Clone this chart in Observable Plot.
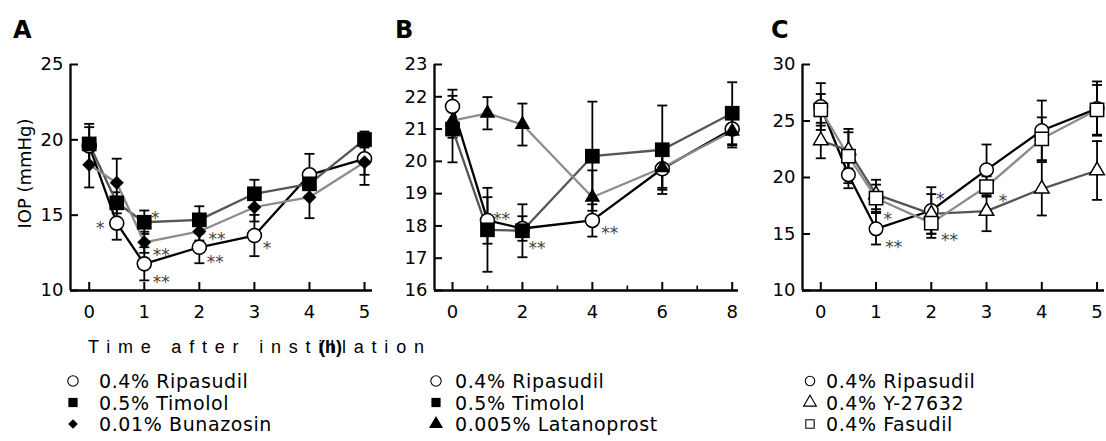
<!DOCTYPE html>
<html><head><meta charset="utf-8">
<script src="https://cdn.jsdelivr.net/npm/d3@7"></script>
<script src="https://cdn.jsdelivr.net/npm/@observablehq/plot@0.6"></script>
<style>
html,body{margin:0;padding:0;background:#fff;}
#root{position:relative;width:1106px;height:441px;overflow:hidden;background:#fff;}
.panel{position:absolute;top:0;}
#overlay{position:absolute;left:0;top:0;pointer-events:none;}
</style></head>
<body><div id="root"></div>
<script>
// ---------- names ----------
const nameRip = "0.4% Ripasudil";
const nameTim = "0.5% Timolol";
const nameBun = "0.01% Bunazosin";
const nameLat = "0.005% Latanoprost";
const nameY27 = "0.4% Y-27632";
const nameFas = "0.4% Fasudil";

// ---------- Panel A ----------
const hoursA = [0, 0.5, 1, 2, 3, 4, 5];
const ripasudilA = [19.6, 14.47, 11.77, 12.87, 13.65, 17.68, 18.74];
const ripasudilA_se = [1.24, 1.1, 1.1, 1.06, 1.37, 1.39, 1.06];
const timololA = [19.73, 15.82, 14.53, 14.69, 16.42, 17.08, 20.02];
const timololA_se = [1.33, 0.7, 0.78, 0.9, 0.93, 0.9, 0.53];
const bunazosinA = [18.34, 17.15, 13.2, 13.92, 15.53, 16.19, 18.51];
const bunazosinA_se = [1.5, 1.6, 0.7, 0.6, 0.95, 1.39, 1.5];
const xTicksA = [0, 1, 2, 3, 4, 5];
const yTicksA = [10, 15, 20, 25];
const sigA_t = [0.2, 1.2, 1.31, 1.31, 2.32, 2.29, 3.23];
const sigA_v = [14.43, 15.09, 12.65, 10.88, 13.7, 12.21, 13.1];
const sigA_text = ["*", "*", "**", "**", "**", "**", "*"];

// ---------- Panel B ----------
const hoursB = [0, 1, 2, 4, 6, 8];
const ripasudilB = [21.7, 18.17, 17.92, 18.17, 19.77, 21.0];
const ripasudilB_se = [0.52, 0.72, 0.38, 0.5, 0.65, 0.5];
const timololB = [21.0, 17.88, 17.85, 20.16, 20.36, 21.49];
const timololB_se = [1.03, 1.3, 0.82, 1.69, 1.37, 0.96];
const latanoprostB = [21.26, 21.49, 21.14, 18.89, 19.8, 20.93];
const latanoprostB_se = [0.53, 0.5, 0.65, 0.83, 0.62, 0.5];
const xTicksB = [0, 2, 4, 6, 8];
const xMinorB = [1, 3, 5, 7];
const yTicksB = [16, 17, 18, 19, 20, 21, 22, 23];
const sigB_t = [1.4, 2.42, 4.5];
const sigB_v = [18.35, 17.46, 17.91];
const sigB_text = ["**", "**", "**"];

// ---------- Panel C ----------
const hoursC = [0, 0.5, 1, 2, 3, 4, 5];
const ripasudilC = [26.28, 20.24, 15.46, 17.08, 20.68, 24.16, 26.1];
const ripasudilC_se = [2.07, 1.19, 1.39, 2.06, 2.24, 2.65, 2.4];
const y27632C = [23.27, 22.4, 18.5, 16.78, 17.02, 19.0, 20.62];
const y27632C_se = [1.57, 1.6, 1.3, 1.75, 1.77, 2.36, 2.6];
const fasudilC = [25.99, 21.9, 18.17, 15.96, 19.2, 23.42, 25.99];
const fasudilC_se = [1.4, 2.4, 1.2, 1.3, 0.9, 1.9, 2.2];
const xTicksC = [0, 1, 2, 3, 4, 5];
const yTicksC = [10, 15, 20, 25, 30];
const sigC_t = [1.21, 1.32, 2.16, 2.33, 3.3];
const sigC_v = [16.73, 14.27, 18.5, 14.87, 18.32];
const sigC_text = ["*", "**", "*", "**", "*"];

const yLabel = "IOP (mmHg)";
const xLabel = "Time after instillation";
const xUnit = "(h)";
const panelLetters = ["A", "B", "C"];

// ---------- styles ----------
const BLACK = "#000", DARK = "#555", LIGHT = "#8c8c8c";
const FONT = "DejaVu Sans, sans-serif";

const capSymbol = {draw(ctx, size) { const w = Math.sqrt(size / Math.PI); ctx.moveTo(-w, 0); ctx.lineTo(w, 0); }};

function rowsOf(s) {
  return s.t.map((t, i) => ({t, v: s.mean[i], lo: s.mean[i] - s.se[i], hi: s.mean[i] + s.se[i]}));
}

function makePanel(cfg) {
  const {series, xDomain, yDomain, xTicks, xMinor = [], yTicks, width, height, marginLeft, marginRight, marginTop, marginBottom, sig, ylabel} = cfg;
  const frameW = width - marginLeft - marginRight;
  const frameH = height - marginTop - marginBottom;
  const marks = [];
  marks.push(Plot.ruleX([xDomain[0]], {stroke: BLACK, strokeWidth: 2.3}));
  marks.push(Plot.ruleY([yDomain[0]], {stroke: BLACK, strokeWidth: 2.3}));
  marks.push(Plot.tickX(xTicks, {x: d => d, insetTop: frameH - 8, stroke: BLACK, strokeWidth: 2}));
  if (xMinor.length) marks.push(Plot.tickX(xMinor, {x: d => d, insetTop: frameH - 4.5, stroke: BLACK, strokeWidth: 1.6}));
  marks.push(Plot.tickY(yTicks, {y: d => d, insetRight: frameW - 8, stroke: BLACK, strokeWidth: 2}));
  const all = series.map(s => ({s, rows: rowsOf(s)}));
  for (const {rows} of all) {
    marks.push(Plot.ruleX(rows, {x: "t", y1: "lo", y2: "hi", stroke: BLACK, strokeWidth: 1.8}));
    marks.push(Plot.dot(rows, {x: "t", y: "lo", symbol: capSymbol, r: 5, fill: "none", stroke: BLACK, strokeWidth: 1.8}));
    marks.push(Plot.dot(rows, {x: "t", y: "hi", symbol: capSymbol, r: 5, fill: "none", stroke: BLACK, strokeWidth: 1.8}));
  }
  for (const {s, rows} of all) {
    marks.push(Plot.line(rows, {x: "t", y: "v", stroke: s.line, strokeWidth: 2.3}));
  }
  for (const {s, rows} of all) {
    marks.push(Plot.dot(rows, {x: "t", y: "v", symbol: s.symbol, r: s.r, fill: s.fill, stroke: s.stroke, strokeWidth: s.sw}));
  }
  if (sig) {
    const sigRows = sig.t.map((t, i) => ({t, v: sig.v[i], text: sig.text[i]}));
    marks.push(Plot.text(sigRows, {x: "t", y: "v", text: "text", fontSize: 17, fill: "#444", dy: 5, fontFamily: FONT}));
  }
  if (ylabel) {
    marks.push(Plot.text([ylabel], {frameAnchor: "left", textAnchor: "middle", text: d => d, rotate: -90, dx: -45, dy: -4, fontSize: 18, fill: BLACK}));
  }
  return Plot.plot({
    width, height, marginLeft, marginRight, marginTop, marginBottom,
    x: {domain: xDomain, ticks: xTicks, tickSize: 0, tickPadding: 15, label: null, tickFormat: d => String(d)},
    y: {domain: yDomain, ticks: yTicks, tickSize: 0, tickPadding: 7, label: null, tickFormat: d => String(d)},
    style: {fontFamily: FONT, fontSize: "18px", color: BLACK, background: "transparent", overflow: "visible"},
    marks
  });
}

const seriesA = [
  {name: nameRip, t: hoursA, mean: ripasudilA, se: ripasudilA_se, line: BLACK, symbol: "circle", r: 7, fill: "#fff", stroke: BLACK, sw: 1.6},
  {name: nameTim, t: hoursA, mean: timololA, se: timololA_se, line: DARK, symbol: "square", r: 8.3, fill: BLACK, stroke: "none", sw: 0},
  {name: nameBun, t: hoursA, mean: bunazosinA, se: bunazosinA_se, line: LIGHT, symbol: "diamond2", r: 6.3, fill: BLACK, stroke: "none", sw: 0}
];
const seriesB = [
  {name: nameRip, t: hoursB, mean: ripasudilB, se: ripasudilB_se, line: BLACK, symbol: "circle", r: 7, fill: "#fff", stroke: BLACK, sw: 1.6},
  {name: nameTim, t: hoursB, mean: timololB, se: timololB_se, line: DARK, symbol: "square", r: 8.3, fill: BLACK, stroke: "none", sw: 0},
  {name: nameLat, t: hoursB, mean: latanoprostB, se: latanoprostB_se, line: LIGHT, symbol: "triangle", r: 5.8, fill: BLACK, stroke: "none", sw: 0}
];
const seriesC = [
  {name: nameRip, t: hoursC, mean: ripasudilC, se: ripasudilC_se, line: BLACK, symbol: "circle", r: 6.8, fill: "#fff", stroke: BLACK, sw: 1.5},
  {name: nameY27, t: hoursC, mean: y27632C, se: y27632C_se, line: DARK, symbol: "triangle", r: 5.4, fill: "#fff", stroke: BLACK, sw: 1.5},
  {name: nameFas, t: hoursC, mean: fasudilC, se: fasudilC_se, line: LIGHT, symbol: "square", r: 7.5, fill: "#fff", stroke: BLACK, sw: 1.5}
];

const root = document.getElementById("root");
function place(svg, left) { const d = document.createElement("div"); d.className = "panel"; d.style.left = left + "px"; d.appendChild(svg); root.appendChild(d); }

place(makePanel({series: seriesA, xDomain: [-0.34, 5.145], yDomain: [10, 25], xTicks: xTicksA, yTicks: yTicksA,
  width: 375, height: 330, marginLeft: 70, marginRight: 3, marginTop: 64, marginBottom: 40,
  sig: {t: sigA_t, v: sigA_v, text: sigA_text}, ylabel: yLabel}), 0);
place(makePanel({series: seriesB, xDomain: [-0.515, 8.18], yDomain: [16, 23], xTicks: xTicksB, xMinor: xMinorB, yTicks: yTicksB,
  width: 375, height: 330, marginLeft: 59, marginRight: 12, marginTop: 64, marginBottom: 40,
  sig: {t: sigB_t, v: sigB_v, text: sigB_text}}), 375);
place(makePanel({series: seriesC, xDomain: [-0.331, 5.135], yDomain: [10, 30], xTicks: xTicksC, yTicks: yTicksC,
  width: 361, height: 330, marginLeft: 57, marginRight: 2, marginTop: 64, marginBottom: 40,
  sig: {t: sigC_t, v: sigC_v, text: sigC_text}}), 745);

// ---------- overlay: panel letters, x label, legends ----------
const ov = d3.select(root).append("svg").attr("id", "overlay").attr("width", 1106).attr("height", 441);
const letterX = [13, 395, 771];
panelLetters.forEach((L, i) => ov.append("text").attr("x", letterX[i]).attr("y", 38.3)
  .attr("font-family", FONT).attr("font-weight", "bold").attr("font-size", 24).text(L));
ov.append("text").attr("x", 88).attr("y", 353.3).attr("font-family", "Liberation Sans, Arial, sans-serif")
  .attr("font-size", 18).attr("letter-spacing", 7.8).text(xLabel);
ov.append("text").attr("x", 319).attr("y", 353.3).attr("font-family", "Liberation Sans, Arial, sans-serif")
  .attr("font-weight", "bold").attr("font-size", 18).text(xUnit);

const symMap = {circle: d3.symbolCircle, square: d3.symbolSquare, diamond2: d3.symbolDiamond2, triangle: d3.symbolTriangle};
const legendCols = [
  {series: seriesA, sx: 73, tx: 99, size: 85},
  {series: seriesB, sx: 436, tx: 455, size: 85},
  {series: seriesC, sx: 810, tx: 826, size: 70}
];
const rowY = [381, 402.5, 424];
legendCols.forEach(col => {
  col.series.forEach((s, i) => {
    const open = s.fill === "#fff";
    ov.append("path").attr("transform", `translate(${col.sx},${rowY[i]})`)
      .attr("d", d3.symbol(symMap[s.symbol], s.symbol === "diamond2" ? col.size * 0.7 : col.size)())
      .attr("fill", open ? "#fff" : BLACK).attr("stroke", open ? BLACK : "none").attr("stroke-width", 1.1);
    ov.append("text").attr("x", col.tx).attr("y", rowY[i] + 7).attr("font-family", FONT)
      .attr("font-size", 19).attr("letter-spacing", 0.6).text(s.name);
  });
});
</script>
</body></html>
